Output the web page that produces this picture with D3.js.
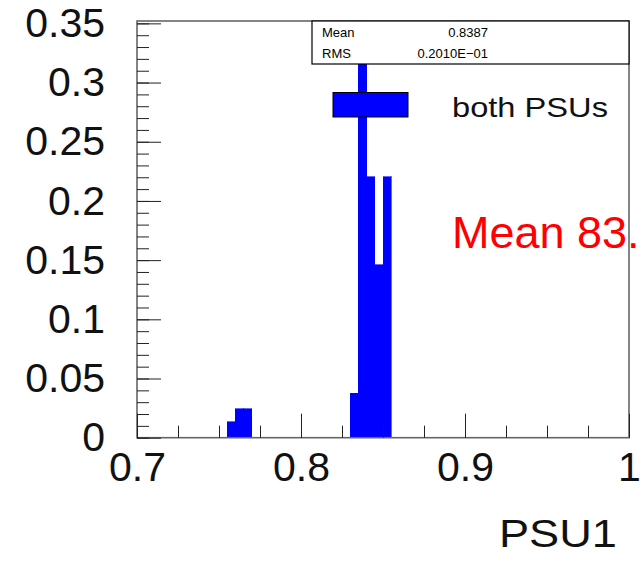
<!DOCTYPE html>
<html>
<head>
<meta charset="utf-8">
<script src="https://cdn.jsdelivr.net/npm/d3@7"></script>
<style>
  html, body { margin: 0; padding: 0; background: #fff; overflow: hidden; }
  svg { display: block; font-family: "Liberation Sans", Arial, sans-serif; }
</style>
</head>
<body>
<svg id="chart" width="644" height="563"></svg>
<script>
// PSU1 efficiency histogram, normalised to unit area (bin width 0.005)
const binLow     = [0.755, 0.760, 0.765, 0.830, 0.835, 0.840, 0.845, 0.850];
const binContent = [0.0133, 0.0245, 0.0245, 0.0375, 0.317, 0.2204, 0.146, 0.2204];
const binWidth   = 0.005;

const yTickLabels = ["0", "0.05", "0.1", "0.15", "0.2", "0.25", "0.3", "0.35"];
const xTickLabels = ["0.7", "0.8", "0.9", "1"];

const statNames  = ["Mean", "RMS"];
const statValues = ["0.8387", "0.2010E\u221201"];

const legendLabel = "both PSUs";
const noteLabel   = "Mean 83.";
const xTitle      = "PSU1";

const svg = d3.select("#chart");

const x = d3.scaleLinear().domain([0.7, 1.0]).range([137, 629]);
const y = d3.scaleLinear().domain([0, 0.352]).range([437.7, 21]);

// histogram bars
svg.append("g")
  .selectAll("rect")
  .data(binLow.map((lo, i) => ({ lo, v: binContent[i] })))
  .join("rect")
  .attr("x", d => x(d.lo))
  .attr("width", d => x(d.lo + binWidth) - x(d.lo))
  .attr("y", d => y(d.v))
  .attr("height", d => y(0) - y(d.v))
  .attr("fill", "#0000ff")
  .attr("stroke", "#0000ff")
  .attr("stroke-width", 0.6)
  .attr("shape-rendering", "crispEdges");

// frame
svg.append("rect")
  .attr("x", x(0.7)).attr("y", y(0.352))
  .attr("width", x(1.0) - x(0.7)).attr("height", y(0) - y(0.352))
  .attr("fill", "none").attr("stroke", "#666").attr("stroke-width", 1.6);

// inward tick marks on the left axis
const yMinor = d3.range(0, 36).map(i => i * 0.01);
const yMajor = d3.range(0, 8).map(i => i * 0.05);
svg.append("g").attr("transform", `translate(${x(0.7)},0)`)
  .call(d3.axisRight(y).tickValues(yMinor).tickSize(12).tickFormat(""))
  .call(g => g.select(".domain").remove())
  .call(g => g.selectAll("line").attr("stroke", "#222"));
svg.append("g").attr("transform", `translate(${x(0.7)},0)`)
  .call(d3.axisRight(y).tickValues(yMajor).tickSize(24).tickFormat(""))
  .call(g => g.select(".domain").remove())
  .call(g => g.selectAll("line").attr("stroke", "#222"));

// inward tick marks on the bottom axis
const xMinor = d3.range(0, 13).map(i => 0.7 + i * 0.025);
const xMajor = [0.7, 0.8, 0.9, 1.0];
svg.append("g").attr("transform", `translate(0,${y(0)})`)
  .call(d3.axisTop(x).tickValues(xMinor).tickSize(12).tickFormat(""))
  .call(g => g.select(".domain").remove())
  .call(g => g.selectAll("line").attr("stroke", "#222"));
svg.append("g").attr("transform", `translate(0,${y(0)})`)
  .call(d3.axisTop(x).tickValues(xMajor).tickSize(24).tickFormat(""))
  .call(g => g.select(".domain").remove())
  .call(g => g.selectAll("line").attr("stroke", "#222"));

// tick labels
svg.append("g").attr("transform", `translate(${x(0.7)},0)`)
  .call(d3.axisLeft(y).tickValues(yMajor).tickSize(0).tickPadding(32)
        .tickFormat((d, i) => yTickLabels[i]))
  .call(g => g.select(".domain").remove())
  .call(g => g.selectAll("text").attr("font-size", 41)
        .attr("font-family", "Liberation Sans, Arial, sans-serif").attr("fill", "#111"));

svg.append("g").attr("transform", `translate(0,${y(0)})`)
  .call(d3.axisBottom(x).tickValues(xMajor).tickSize(0).tickPadding(14)
        .tickFormat((d, i) => xTickLabels[i]))
  .call(g => g.select(".domain").remove())
  .call(g => g.selectAll("text").attr("font-size", 41)
        .attr("font-family", "Liberation Sans, Arial, sans-serif").attr("fill", "#111"));

// axis title
svg.append("text")
  .attr("x", 499).attr("y", 547)
  .attr("font-size", 38)
  .attr("textLength", 118).attr("lengthAdjust", "spacingAndGlyphs")
  .attr("fill", "#111")
  .text(xTitle);

// statistics box
const stats = svg.append("g");
stats.append("rect")
  .attr("x", 312).attr("y", y(0.352))
  .attr("width", x(1.0) - 312).attr("height", 64 - y(0.352))
  .attr("fill", "#fff").attr("stroke", "#000").attr("stroke-width", 1.2);
statNames.forEach((name, i) => {
  stats.append("text")
    .attr("x", 322).attr("y", 37 + i * 21)
    .attr("font-size", 13).attr("fill", "#000")
    .text(name);
  stats.append("text")
    .attr("x", 488).attr("y", 37 + i * 21)
    .attr("text-anchor", "end")
    .attr("font-size", 13).attr("fill", "#000")
    .text(statValues[i]);
});

// legend
svg.append("rect")
  .attr("x", 333).attr("y", 92.5)
  .attr("width", 75).attr("height", 24.5)
  .attr("fill", "#0000ff").attr("stroke", "#000").attr("stroke-width", 1);
svg.append("text")
  .attr("x", 452).attr("y", 116.5)
  .attr("font-size", 28)
  .attr("textLength", 156).attr("lengthAdjust", "spacingAndGlyphs")
  .attr("fill", "#111")
  .text(legendLabel);

// annotation
svg.append("text")
  .attr("x", 452).attr("y", 248)
  .attr("font-size", 45)
  .attr("fill", "#ff0000")
  .text(noteLabel);
</script>
</body>
</html>
